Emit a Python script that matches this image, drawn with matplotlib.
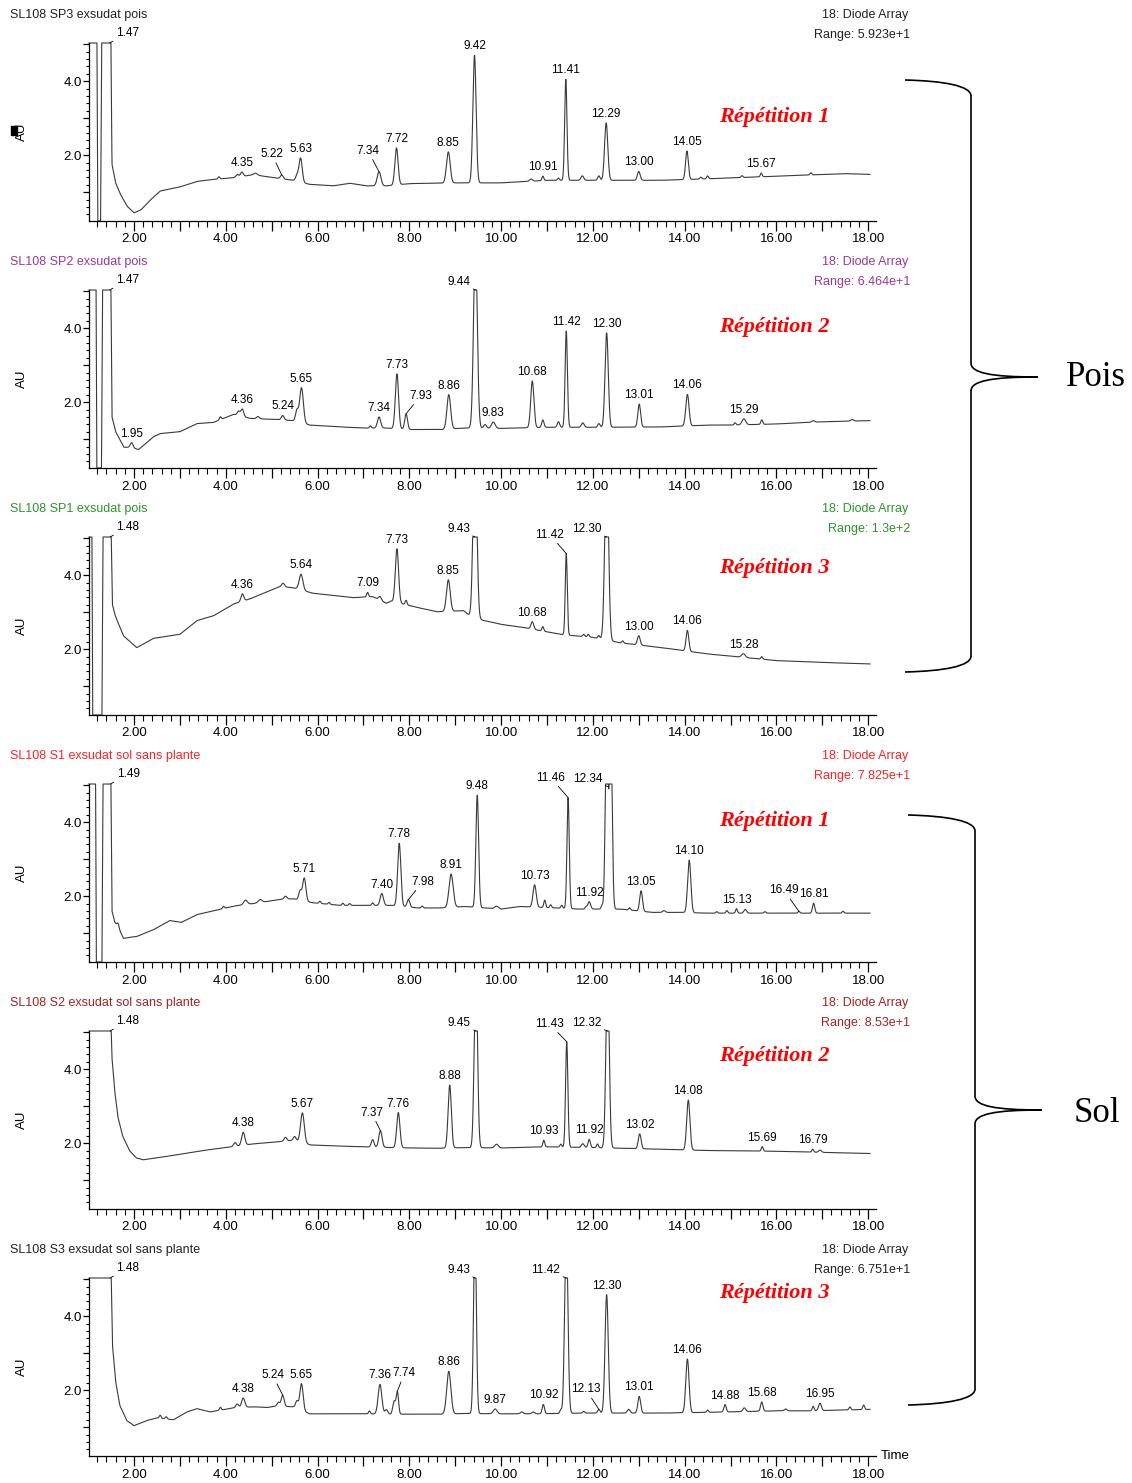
import numpy as np
import matplotlib
matplotlib.use("Agg")
from matplotlib import pyplot as plt
from matplotlib import font_manager
from matplotlib.path import Path
from matplotlib.patches import PathPatch, Rectangle
from matplotlib.ticker import MultipleLocator, FuncFormatter

# sec. 1 data (time in min, signal in AU)
# baseline knots, then peaks (time, height above baseline, width) and labelled peaks

sp3_base_t = [1.02, 1.19, 1.21, 1.27, 1.30, 1.49, 1.52, 1.6, 1.7, 1.85, 2.0, 2.15, 2.35, 2.57, 3.0, 3.37, 3.8,
              4.17, 4.6, 5.11, 5.47, 5.83, 6.34, 6.7, 7.06, 7.5, 8.0, 9.0, 10.0, 11.0, 12.0, 13.5, 14.5, 16.0,
              17.5, 18.04]
sp3_base_v = [6, 6, 0, 0, 6, 6, 1.75, 1.25, 0.95, 0.62, 0.44, 0.52, 0.78, 1.03, 1.14, 1.29, 1.35,
              1.39, 1.47, 1.38, 1.32, 1.21, 1.17, 1.24, 1.17, 1.17, 1.23, 1.25, 1.25, 1.32, 1.32, 1.32, 1.36, 1.43,
              1.50, 1.48]
sp3_peak_t = [3.85, 4.25, 4.35, 4.65, 5.22, 5.55, 5.63, 7.34, 7.72, 8.85, 9.42, 10.65, 10.91, 11.25, 11.41,
              11.77, 12.13, 12.29, 13.00, 14.05, 14.35, 14.5, 15.25, 15.67, 16.75]
sp3_peak_h = [0.06, 0.07, 0.12, 0.05, 0.10, 0.15, 0.65, 0.38, 1.0, 0.84, 3.45, 0.06, 0.12, 0.06, 2.73,
              0.12, 0.12, 1.55, 0.24, 0.77, 0.05, 0.08, 0.05, 0.10, 0.06]
sp3_peak_w = [0.02, 0.03, 0.03, 0.04, 0.03, 0.03, 0.035, 0.04, 0.035, 0.04, 0.035, 0.03, 0.02, 0.02, 0.025,
              0.03, 0.025, 0.035, 0.03, 0.03, 0.02, 0.02, 0.02, 0.02, 0.02]
sp3_labels = ["1.47", "4.35", "5.22", "5.63", "7.34", "7.72", "8.85", "9.42", "10.91", "11.41", "12.29",
              "13.00", "14.05", "15.67"]

sp2_base_t = [1.02, 1.17, 1.19, 1.29, 1.32, 1.49, 1.52, 1.6, 1.78, 1.9, 2.1, 2.42, 2.57, 3.0, 3.37, 3.73, 4.17,
              4.53, 5.11, 5.47, 5.83, 6.5, 7.0, 7.5, 8.0, 8.7, 9.2, 10.0, 11.0, 12.0, 13.5, 14.5, 15.0, 16.0,
              17.0, 18.04]
sp2_base_v = [6, 6, 0, 0, 6, 6, 1.6, 1.2, 0.78, 0.78, 0.72, 1.06, 1.15, 1.2, 1.42, 1.45, 1.67,
              1.56, 1.53, 1.5, 1.38, 1.33, 1.3, 1.3, 1.26, 1.26, 1.3, 1.29, 1.32, 1.32, 1.33, 1.38, 1.38, 1.41,
              1.47, 1.5]
sp2_peak_t = [1.95, 3.88, 4.28, 4.36, 4.7, 5.24, 5.55, 5.65, 7.15, 7.34, 7.73, 7.93, 8.86, 9.44, 9.65, 9.83,
              10.68, 10.91, 11.25, 11.42, 11.78, 12.13, 12.30, 13.01, 14.06, 15.1, 15.29, 15.68, 16.8, 17.65]
sp2_peak_h = [0.14, 0.08, 0.12, 0.2, 0.06, 0.12, 0.3, 0.95, 0.06, 0.3, 1.48, 0.42, 0.93, 5.0, 0.1, 0.17,
              1.26, 0.2, 0.15, 2.6, 0.12, 0.1, 2.55, 0.62, 0.85, 0.06, 0.16, 0.12, 0.04, 0.04]
sp2_peak_w = [0.03, 0.02, 0.03, 0.03, 0.03, 0.03, 0.03, 0.04, 0.02, 0.035, 0.035, 0.03, 0.04, 0.04, 0.03, 0.04,
              0.035, 0.025, 0.025, 0.025, 0.03, 0.025, 0.035, 0.03, 0.035, 0.02, 0.04, 0.02, 0.03, 0.03]
sp2_labels = ["1.47", "1.95", "4.36", "5.24", "5.65", "7.34", "7.73", "7.93", "8.86", "9.44", "9.83", "10.68",
              "11.42", "12.30", "13.01", "14.06", "15.29"]

sp1_base_t = [1.02, 1.08, 1.10, 1.30, 1.33, 1.49, 1.53, 1.58, 1.62, 1.77, 2.06, 2.42, 3.0, 3.37, 3.73, 4.17,
              4.53, 5.18, 5.47, 5.9, 6.34, 6.78, 7.2, 7.5, 7.6, 8.16, 8.6, 9.18, 9.36, 9.6, 10.0, 10.5, 11.3,
              11.6, 12.0, 12.6, 13.5, 14.5, 15.0, 16.0, 17.0, 18.04]
sp1_base_v = [6, 6, 0, 0, 6, 6, 3.2, 2.95, 2.81, 2.36, 2.04, 2.29, 2.4, 2.77, 2.9, 3.22,
              3.36, 3.69, 3.66, 3.51, 3.45, 3.39, 3.42, 3.24, 3.3, 3.13, 3.01, 3.04, 2.86, 2.78, 2.67, 2.58, 2.40,
              2.36, 2.32, 2.17, 2.04, 1.87, 1.81, 1.69, 1.64, 1.6]
sp1_peak_t = [4.36, 5.25, 5.64, 7.09, 7.36, 7.73, 7.93, 8.85, 9.43, 10.68, 10.91, 11.42, 11.8, 11.9, 12.13,
              12.30, 12.65, 13.00, 14.06, 15.28, 15.68]
sp1_peak_h = [0.2, 0.1, 0.42, 0.12, 0.1, 1.45, 0.12, 0.85, 5.0, 0.2, 0.12, 2.2, 0.06, 0.07, 0.08,
              5.0, 0.06, 0.25, 0.56, 0.1, 0.07]
sp1_peak_w = [0.03, 0.03, 0.04, 0.02, 0.03, 0.035, 0.02, 0.04, 0.04, 0.03, 0.02, 0.022, 0.02, 0.02, 0.02,
              0.04, 0.02, 0.03, 0.03, 0.04, 0.02]
sp1_labels = ["1.48", "4.36", "5.64", "7.09", "7.73", "8.85", "9.43", "10.68", "11.42", "12.30", "13.00",
              "14.06", "15.28"]

s1_base_t = [1.02, 1.16, 1.18, 1.30, 1.33, 1.49, 1.52, 1.58, 1.66, 1.77, 2.06, 2.42, 2.78, 3.03, 3.37, 3.87,
             4.17, 4.6, 5.18, 5.47, 5.9, 6.5, 7.0, 7.6, 8.2, 8.7, 9.2, 10.0, 10.4, 11.2, 11.7, 12.6, 13.3, 13.9,
             14.5, 18.04]
s1_base_v = [6, 6, 0, 0, 6, 6, 1.6, 1.3, 1.15, 0.86, 0.91, 1.09, 1.34, 1.29, 1.5, 1.64,
             1.73, 1.8, 1.91, 1.93, 1.82, 1.75, 1.75, 1.75, 1.68, 1.68, 1.72, 1.65, 1.72, 1.68, 1.65, 1.65, 1.56,
             1.56, 1.54, 1.54]
s1_peak_t = [1.65, 3.95, 4.43, 4.75, 5.3, 5.62, 5.71, 6.05, 6.25, 6.55, 6.7, 7.2, 7.40, 7.78, 7.98, 8.28, 8.91,
             9.48, 9.9, 10.73, 10.95, 11.08, 11.32, 11.46, 11.85, 11.92, 12.2, 12.30, 12.39, 12.8, 13.05, 13.55,
             14.10, 14.7, 14.92, 15.13, 15.32, 15.75, 16.49, 16.81, 17.45]
s1_peak_h = [0.1, 0.06, 0.12, 0.08, 0.08, 0.25, 0.62, 0.06, 0.05, 0.06, 0.05, 0.07, 0.32, 1.7, 0.2, 0.05, 0.9,
             3.03, 0.07, 0.6, 0.2, 0.08, 0.08, 3.0, 0.06, 0.2, 0.1, 5.0, 5.0, 0.06, 0.55, 0.05,
             1.42, 0.04, 0.07, 0.12, 0.1, 0.04, 0.05, 0.27, 0.05]
s1_peak_w = [0.02, 0.02, 0.04, 0.04, 0.03, 0.03, 0.035, 0.02, 0.02, 0.02, 0.02, 0.02, 0.035, 0.035, 0.03, 0.02,
             0.045, 0.03, 0.04, 0.035, 0.02, 0.02, 0.02, 0.025, 0.02, 0.03, 0.02, 0.03, 0.03, 0.02, 0.03, 0.03,
             0.035, 0.02, 0.02, 0.02, 0.03, 0.02, 0.02, 0.025, 0.02]
s1_labels = ["1.49", "5.71", "7.40", "7.78", "7.98", "8.91", "9.48", "10.73", "11.46", "11.92", "12.34",
             "13.05", "14.10", "15.13", "16.49", "16.81"]

s2_base_t = [1.02, 1.48, 1.52, 1.58, 1.65, 1.75, 1.9, 2.05, 2.2, 2.6, 3.0, 3.5, 4.0, 4.6, 5.0, 5.5, 5.85,
             6.5, 7.0, 7.6, 8.0, 8.6, 9.2, 10.0, 11.0, 12.0, 13.0, 14.5, 16.0, 17.0, 18.04]
s2_base_v = [6, 6, 4.3, 3.4, 2.7, 2.2, 1.8, 1.6, 1.55, 1.62, 1.7, 1.8, 1.88, 1.98, 2.02, 2.08, 1.95,
             1.92, 1.9, 1.88, 1.87, 1.86, 1.88, 1.87, 1.9, 1.88, 1.85, 1.8, 1.78, 1.75, 1.72]
s2_peak_t = [4.2, 4.38, 5.3, 5.5, 5.67, 7.2, 7.37, 7.76, 8.88, 9.45, 9.9, 10.93, 11.3, 11.43, 11.78, 11.92,
             12.1, 12.32, 13.02, 14.08, 15.69, 16.79, 16.95]
s2_peak_h = [0.1, 0.35, 0.1, 0.1, 0.8, 0.2, 0.45, 0.95, 1.7, 5.0, 0.1, 0.18, 0.08, 2.85, 0.1, 0.22,
             0.1, 5.0, 0.4, 1.35, 0.12, 0.08, 0.06]
s2_peak_w = [0.03, 0.035, 0.03, 0.03, 0.04, 0.03, 0.035, 0.035, 0.035, 0.035, 0.04, 0.02, 0.02, 0.025, 0.03,
             0.025, 0.02, 0.035, 0.03, 0.035, 0.02, 0.02, 0.03]
s2_labels = ["1.48", "4.38", "5.67", "7.37", "7.76", "8.88", "9.45", "10.93", "11.43", "11.92", "12.32",
             "13.02", "14.08", "15.69", "16.79"]

s3_base_t = [1.02, 1.49, 1.53, 1.6, 1.69, 1.84, 2.0, 2.28, 2.5, 2.86, 3.15, 3.37, 3.66, 4.17, 4.6, 4.9, 5.11,
             5.47, 5.83, 6.5, 7.0, 7.6, 8.0, 8.7, 9.2, 10.0, 10.8, 11.8, 12.6, 13.5, 14.5, 16.0, 16.7, 18.04]
s3_base_v = [6, 6, 3.23, 2.23, 1.59, 1.18, 1.04, 1.18, 1.25, 1.2, 1.41, 1.5, 1.41, 1.52, 1.55, 1.53, 1.57,
             1.55, 1.36, 1.36, 1.36, 1.35, 1.35, 1.35, 1.37, 1.36, 1.36, 1.38, 1.38, 1.38, 1.4, 1.44, 1.44, 1.48]
s3_peak_t = [2.57, 2.7, 3.88, 4.25, 4.38, 5.15, 5.24, 5.55, 5.65, 7.13, 7.36, 7.5, 7.67, 7.74, 8.86, 9.43,
             9.87, 10.45, 10.7, 10.92, 11.3, 11.42, 11.8, 12.13, 12.30, 12.78, 13.01, 14.06, 14.5, 14.88, 15.3,
             15.68, 16.2, 16.8, 16.95, 17.6, 17.9]
s3_peak_h = [0.08, 0.06, 0.08, 0.1, 0.25, 0.1, 0.3, 0.2, 0.72, 0.08, 0.8, 0.12, 0.35, 0.6, 1.15, 5.0,
             0.13, 0.05, 0.05, 0.25, 0.1, 5.0, 0.05, 0.1, 3.2, 0.1, 0.45, 1.45, 0.06, 0.2, 0.1,
             0.25, 0.05, 0.12, 0.2, 0.08, 0.12]
s3_peak_w = [0.02, 0.02, 0.02, 0.03, 0.035, 0.03, 0.03, 0.03, 0.035, 0.02, 0.04, 0.03, 0.03, 0.025, 0.045, 0.03,
             0.04, 0.03, 0.03, 0.025, 0.02, 0.035, 0.02, 0.025, 0.035, 0.03, 0.03, 0.035, 0.02, 0.025, 0.03,
             0.025, 0.03, 0.02, 0.03, 0.02, 0.02]
s3_labels = ["1.48", "4.38", "5.24", "5.65", "7.36", "7.74", "8.86", "9.43", "9.87", "10.92", "11.42", "12.13",
             "12.30", "13.01", "14.06", "14.88", "15.68", "16.95"]

titles = ["SL108 SP3 exsudat pois", "SL108 SP2 exsudat pois", "SL108 SP1 exsudat pois",
          "SL108 S1 exsudat sol sans plante", "SL108 S2 exsudat sol sans plante", "SL108 S3 exsudat sol sans plante"]
ranges = ["5.923e+1", "6.464e+1", "1.3e+2", "7.825e+1", "8.53e+1", "6.751e+1"]
repetitions = ["Répétition 1", "Répétition 2", "Répétition 3", "Répétition 1", "Répétition 2", "Répétition 3"]

# sec. 2 style: colours and label leader offsets (pixels)
title_colors = ["#222222", "#9b379b", "#2a962a", "#ff2222", "#a52222", "#222222"]
left_lead = {"1.47": (6, 4), "1.48": (6, 4), "1.49": (6, 4)}
leaders = [
    {"5.22": (-10, 15), "7.34": (-11, 15)},
    {"9.44": (-5, 2), "7.93": (3, 12)},
    {"9.43": (-5, 2), "11.42": (-2, 13), "12.30": (-5, 2)},
    {"11.46": (-3, 14), "12.34": (-6, 2), "7.98": (3, 12), "16.49": (-15, 15)},
    {"9.45": (-5, 2), "11.43": (-3, 12), "12.32": (-6, 2), "7.37": (-9, 12)},
    {"9.43": (-5, 2), "11.42": (-6, 2), "5.24": (-10, 14), "7.74": (7, 12), "12.13": (-13, 14)},
]
right_lead = {"9.44", "9.43", "9.45", "11.42", "11.46", "11.43", "12.30", "12.34", "12.32"}
left_text = {"7.93", "7.98"}

panels = [
    (sp3_base_t, sp3_base_v, sp3_peak_t, sp3_peak_h, sp3_peak_w, sp3_labels),
    (sp2_base_t, sp2_base_v, sp2_peak_t, sp2_peak_h, sp2_peak_w, sp2_labels),
    (sp1_base_t, sp1_base_v, sp1_peak_t, sp1_peak_h, sp1_peak_w, sp1_labels),
    (s1_base_t, s1_base_v, s1_peak_t, s1_peak_h, s1_peak_w, s1_labels),
    (s2_base_t, s2_base_v, s2_peak_t, s2_peak_h, s2_peak_w, s2_labels),
    (s3_base_t, s3_base_v, s3_peak_t, s3_peak_h, s3_peak_w, s3_labels),
]

# a narrow sans face if there is one, otherwise a smaller regular one
installed = {f.name for f in font_manager.fontManager.ttflist}
if "Liberation Sans Narrow" in installed:
    plt.rcParams["font.family"] = ["Liberation Sans Narrow", "DejaVu Sans"]
    fs_text, fs_tick, fs_peak = 10.5, 10.5, 9.5
else:
    plt.rcParams["font.family"] = ["Liberation Sans", "DejaVu Sans"]
    fs_text, fs_tick, fs_peak = 9, 9.5, 8.5
serif = ["Liberation Serif", "DejaVu Serif"]

W, H = 1132, 1483
fig = plt.figure(figsize=(W / 100, H / 100), dpi=100)

Y_LO, Y_HI = 0.22, 5.03
X_LO, X_HI = 1.019, 18.17
ax_left, ax_right = 89, 876
t = np.linspace(1.02, 18.04, 8000)
lead = dict(arrowstyle="-", lw=0.6, color="k", shrinkA=0, shrinkB=0)

for i, (bt, bv, pt, ph, pw, labs) in enumerate(panels):
    top = 43 + 247 * i
    bottom = top + 178
    ax = fig.add_axes([ax_left / W, 1 - bottom / H, (ax_right - ax_left) / W, 178 / H])

    sig = np.interp(t, bt, bv)
    for p, h, w in zip(pt, ph, pw):
        sig = sig + h * np.exp(-0.5 * ((t - p) / w) ** 2)
    sig = np.clip(sig, Y_LO, Y_HI)
    ax.plot(t, sig, color="#3a3a3a", lw=0.8, clip_on=False)

    ax.set_xlim(X_LO, X_HI)
    ax.set_ylim(Y_LO, Y_HI)
    for s in ["top", "right"]:
        ax.spines[s].set_visible(False)
    ax.spines["left"].set_linewidth(0.9)
    ax.spines["bottom"].set_linewidth(0.9)
    ax.xaxis.set_major_locator(MultipleLocator(1))
    ax.xaxis.set_minor_locator(MultipleLocator(0.2))
    ax.xaxis.set_major_formatter(FuncFormatter(lambda v, _: f"{v:.2f}" if round(v) % 2 == 0 else ""))
    ax.yaxis.set_major_locator(MultipleLocator(1))
    ax.yaxis.set_minor_locator(MultipleLocator(0.2))
    ax.yaxis.set_major_formatter(FuncFormatter(lambda v, _: f"{v:.1f}" if round(v) in (2, 4) else ""))
    ax.tick_params(axis="x", which="major", length=7, width=0.9, pad=2, labelsize=fs_tick)
    ax.tick_params(axis="x", which="minor", length=4, width=0.8)
    ax.tick_params(axis="y", which="major", length=4, width=0.9, pad=1, labelsize=fs_tick)
    ax.tick_params(axis="y", which="minor", length=2.5, width=0.8)
    ax.patch.set_visible(False)

    # peak labels
    for lab in labs:
        x = float(lab)
        y = min(float(np.interp(x, t, sig)), Y_HI)
        if lab == labs[0] and lab in left_lead:
            ax.annotate(lab, (x, y), xytext=left_lead[lab], textcoords="offset pixels",
                        ha="left", va="bottom", fontsize=fs_peak, arrowprops=lead)
        elif lab in leaders[i]:
            ha = "right" if lab in right_lead else ("left" if lab in left_text else "center")
            ax.annotate(lab, (x, y), xytext=leaders[i][lab], textcoords="offset pixels",
                        ha=ha, va="bottom", fontsize=fs_peak, arrowprops=lead)
        else:
            ax.annotate(lab, (x, y), xytext=(0, 3), textcoords="offset pixels",
                        ha="center", va="bottom", fontsize=fs_peak)

# sec. 3 overlay in pixel coordinates for titles, braces and side notes
ov = fig.add_axes([0, 0, 1, 1], zorder=10)
ov.set_xlim(0, W)
ov.set_ylim(H, 0)
ov.axis("off")
ov.patch.set_visible(False)

for i in range(6):
    y0 = 15 + 247 * i
    ov.text(10, y0, titles[i], color=title_colors[i], fontsize=fs_text, ha="left", va="center")
    ov.text(908, y0, "18: Diode Array", color=title_colors[i], fontsize=fs_text, ha="right", va="center")
    ov.text(910, y0 + 20, "Range: " + ranges[i], color=title_colors[i], fontsize=fs_text, ha="right", va="center")
    ov.text(22, 132 + 247 * i, "AU", rotation=90, fontsize=fs_tick, ha="center", va="center")

rep_y = [117, 327, 568, 821, 1056, 1293]
for r, y in zip(repetitions, rep_y):
    ov.text(774, y, r, color="#ff0000", fontsize=16, fontweight="bold", fontstyle="italic",
            family=serif, ha="center", va="center")

ov.add_patch(Rectangle((11, 126), 6, 9, color="black"))
ov.text(881, 1456, "Time", fontsize=fs_tick, ha="left", va="center")


def brace(x0, xv, xt, y_top, y_tip, y_bot):
    verts = [(x0, y_top), (x0 + 40, y_top + 1), (xv, y_top + 6), (xv, y_top + 16),
             (xv, y_tip - 14), (xv, y_tip - 4), (xv + 20, y_tip), (xt, y_tip),
             (xv + 20, y_tip), (xv, y_tip + 4), (xv, y_tip + 14),
             (xv, y_bot - 16), (xv, y_bot - 6), (x0 + 40, y_bot - 1), (x0, y_bot)]
    codes = [Path.MOVETO, Path.CURVE4, Path.CURVE4, Path.CURVE4,
             Path.LINETO, Path.CURVE4, Path.CURVE4, Path.CURVE4,
             Path.CURVE4, Path.CURVE4, Path.CURVE4,
             Path.LINETO, Path.CURVE4, Path.CURVE4, Path.CURVE4]
    ov.add_patch(PathPatch(Path(verts, codes), fill=False, lw=1.2, color="black"))


brace(905, 971, 1038, 80, 377, 672)
brace(908, 975, 1042, 815, 1110, 1405)
ov.text(1096, 378, "Pois", fontsize=25, family=serif, ha="center", va="center")
ov.text(1097, 1113, "Sol", fontsize=25, family=serif, ha="center", va="center")

fig.savefig("out.png", dpi=100)
